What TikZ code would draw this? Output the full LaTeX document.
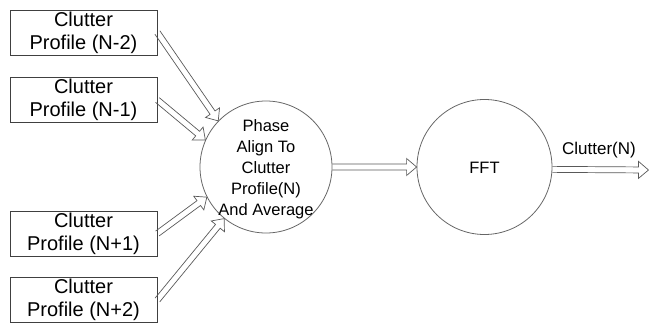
\documentclass[tikz,border=0pt]{standalone}
\usepackage{fontspec}
\setmainfont{Liberation Sans}
\usetikzlibrary{calc}
\newcommand\hollowarrow[2]{%
  \coordinate (hbase) at ($(#2)!10pt!(#1)$);
  \draw[arrowline] ($(#1)!3pt!90:(#2)$) -- ($(hbase)!3pt!90:(#2)$)
    -- ($(hbase)!8.5pt!90:(#2)$) -- (#2) -- ($(hbase)!8.5pt!-90:(#2)$)
    -- ($(hbase)!3pt!-90:(#2)$) -- ($(#1)!3pt!-90:(#2)$);}
\begin{document}
\begin{tikzpicture}[x=1pt,y=-1pt,
  box/.style={draw=black!75, line width=0.8pt, minimum width=147pt, minimum height=45pt,
    inner sep=0pt, align=center, font=\fontsize{20}{23}\selectfont},
  proc/.style={draw=black!60, line width=0.8pt, circle, inner sep=0pt},
  ptext/.style={align=center, inner sep=0pt, font=\fontsize{16.5}{21}\selectfont},
  arrowline/.style={draw=black!65, line width=0.7pt, line join=miter}
]
\useasboundingbox (0,0) rectangle (649,324);
\node[box] (b1) at (83.5,32.5) {Clutter\\Profile (N-2)};
\node[box] (b2) at (83.5,100) {Clutter\\Profile (N-1)};
\node[box] (b3) at (83.5,233.5) {Clutter\\Profile (N+1)};
\node[box] (b4) at (83.5,300) {Clutter\\Profile (N+2)};
\node[proc, minimum size=132pt] (c1) at (266,167) {};
\node[ptext] (t1) at (266,169) {Phase\\Align To\\Clutter\\Profile(N)\\And Average};
\node[proc, minimum size=135pt] (c2) at (484.5,167) {};
\node[ptext] (t2) at (484.5,168) {FFT};
\coordinate (out) at (648.5,170);
\node[ptext, font=\fontsize{17}{21}\selectfont] (lab) at (599,150) {Clutter(N)};
\hollowarrow{b1.east}{c1.136}
\hollowarrow{b2.east}{c1.156}
\hollowarrow{b3.east}{c1.207}
\hollowarrow{b4.east}{c1.231}
\hollowarrow{c1.east}{c2.west}
\hollowarrow{c2.-2.5}{out}
\end{tikzpicture}
\end{document}
